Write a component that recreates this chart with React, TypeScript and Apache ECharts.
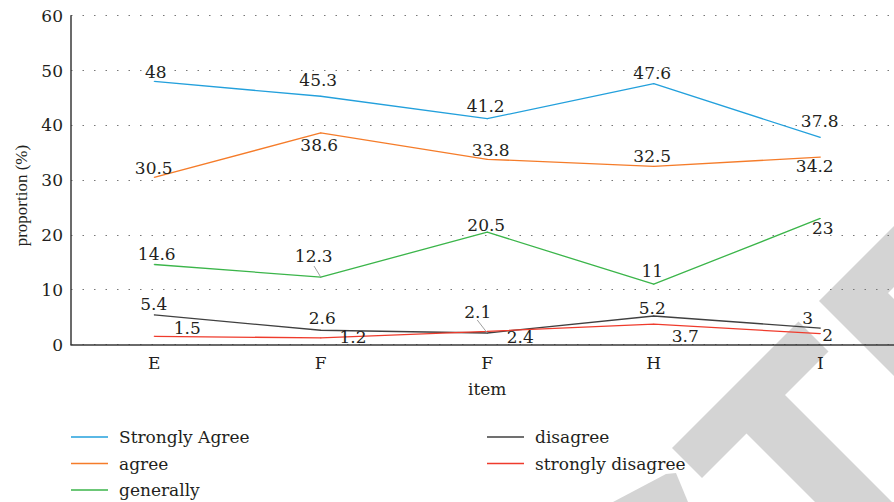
import React, { useEffect, useRef } from "react";
import * as echarts from "echarts";

// Survey items on the horizontal axis
const items = ["E", "F", "F", "H", "I"];

// Response shares (%) per item
const seriesNames = ["Strongly Agree", "agree", "generally", "disagree", "strongly disagree"];
const stronglyAgree = [48, 45.3, 41.2, 47.6, 37.8];
const agree = [30.5, 38.6, 33.8, 32.5, 34.2];
const generally = [14.6, 12.3, 20.5, 11, 23];
const disagree = [5.4, 2.6, 2.1, 5.2, 3];
const stronglyDisagree = [1.5, 1.2, 2.4, 3.7, 2];

const yTicks = { min: 0, max: 60, step: 10 };

const COLORS = ["#23a0dc", "#f57c2a", "#3bb54a", "#404040", "#ef3b2c"];
const FONT = "DejaVu Serif";
const INK = "#231f20";

// Where each value label sits relative to its point (pixels)
const labelShift: number[][][] = [
  [[2, -9], [-2, -16], [-1, -12], [-1, -10], [0, -15.5]],
  [[0, -9], [-1, 12.5], [4, -9], [-1, -10], [-5, 9.5]],
  [[3, -10], [-6.5, -20.5], [-0.5, -7], [-1, -12.5], [3, 10]],
  [[0, -10], [2, -12], [-9, -20], [-1, -8], [-12, -10]],
  [[33.5, -8], [32.7, 0], [33.5, 6.5], [32, 12.5], [8, 1.5]],
];

// Leader lines for displaced labels: [series, item index, dx, dy]
const leaders: [number, number, number, number][] = [
  [2, 1, -6.7, -11],
  [3, 2, -10, -13],
];

// Light grey stamp drawn behind the plot
const stamp = [
  [[672, 448], [798.5, 321.5], [828.5, 351.5], [785, 395], [892, 502], [815, 502], [746.5, 433.5], [702, 478]],
  [[819, 301], [894, 226], [894, 287], [888, 293], [894, 299], [894, 376]],
  [[613, 502], [666, 474], [676, 473], [688, 502]],
];

export default function App() {
  const ref = useRef<HTMLDivElement>(null);

  useEffect(() => {
    if (!ref.current) return;
    const chart = echarts.init(ref.current, null, { renderer: "svg" });
    const allSeries = [stronglyAgree, agree, generally, disagree, stronglyDisagree];

    const stampGraphics = stamp.map((pts, i) => ({
      id: "stamp" + i,
      type: "polygon",
      z: -10,
      silent: true,
      shape: { points: pts },
      style: { fill: "#d4d4d4" },
    }));

    const textStyle = { fontFamily: FONT, fontSize: 17, color: INK };

    chart.setOption({
      animation: false,
      backgroundColor: "#ffffff",
      textStyle: { fontFamily: FONT },
      grid: { left: 71, top: 15.7, width: 832.5, height: 328.8, containLabel: false },
      legend: [
        {
          data: seriesNames.slice(0, 3),
          orient: "vertical",
          left: 71,
          top: 427,
          padding: 0,
          icon: "rect",
          itemWidth: 37,
          itemHeight: 1.6,
          itemGap: 6.5,
          textStyle: { ...textStyle, lineHeight: 20, padding: [0, 0, 0, 6] },
        },
        {
          data: seriesNames.slice(3),
          orient: "vertical",
          left: 487,
          top: 427,
          padding: 0,
          icon: "rect",
          itemWidth: 37,
          itemHeight: 1.6,
          itemGap: 6.5,
          textStyle: { ...textStyle, lineHeight: 20, padding: [0, 0, 0, 6] },
        },
      ],
      xAxis: {
        type: "category",
        data: items,
        boundaryGap: true,
        axisLine: { show: true, lineStyle: { color: "#3a3a3a", width: 1.5 } },
        axisTick: { show: false },
        axisLabel: { ...textStyle, margin: 10 },
        name: "item",
        nameLocation: "middle",
        nameGap: 36,
        nameTextStyle: { ...textStyle },
      },
      yAxis: {
        type: "value",
        min: yTicks.min,
        max: yTicks.max,
        interval: yTicks.step,
        axisLine: { show: true, lineStyle: { color: "#3a3a3a", width: 1.5 } },
        axisTick: { show: false },
        axisLabel: { ...textStyle, margin: 8 },
        splitLine: { show: true, lineStyle: { type: [1.5, 10], color: "#777777", width: 1.2 } },
        name: "proportion (%)",
        nameLocation: "middle",
        nameGap: 40,
        nameTextStyle: { fontFamily: "Liberation Serif", fontSize: 17, color: INK, padding: [0, 31, 0, 0] },
      },
      graphic: { elements: stampGraphics },
      series: allSeries.map((vals, si) => ({
        name: seriesNames[si],
        type: "line",
        z: 2 + si,
        symbol: "circle",
        symbolSize: 1,
        showSymbol: true,
        lineStyle: { color: COLORS[si], width: 1.3 },
        itemStyle: { color: COLORS[si] },
        data: vals.map((v, i) => ({
          value: v,
          label: {
            show: true,
            position: labelShift[si][i],
            align: "center",
            verticalAlign: "middle",
            ...textStyle,
          },
        })),
      })),
    });

    // Leader lines from points to their displaced labels
    const leaderGraphics = leaders.map(([si, idx, dx, dy], k) => {
      const p = chart.convertToPixel({ xAxisIndex: 0, yAxisIndex: 0 }, [idx, allSeries[si][idx]]) as number[];
      return {
        id: "leader" + k,
        type: "line",
        silent: true,
        z: 10,
        shape: { x1: p[0], y1: p[1], x2: p[0] + dx, y2: p[1] + dy },
        style: { stroke: "#a0a0a0", lineWidth: 1 },
      };
    });
    chart.setOption({ graphic: { elements: [...stampGraphics, ...leaderGraphics] } });

    return () => chart.dispose();
  }, []);

  // The plot runs past the right edge of the frame, so the canvas is wider and clipped
  return (
    <div style={{ position: "absolute", left: 0, top: 0, width: 894, height: 502, overflow: "hidden", background: "#fff" }}>
      <div ref={ref} style={{ width: 904, height: 502 }} />
    </div>
  );
}
